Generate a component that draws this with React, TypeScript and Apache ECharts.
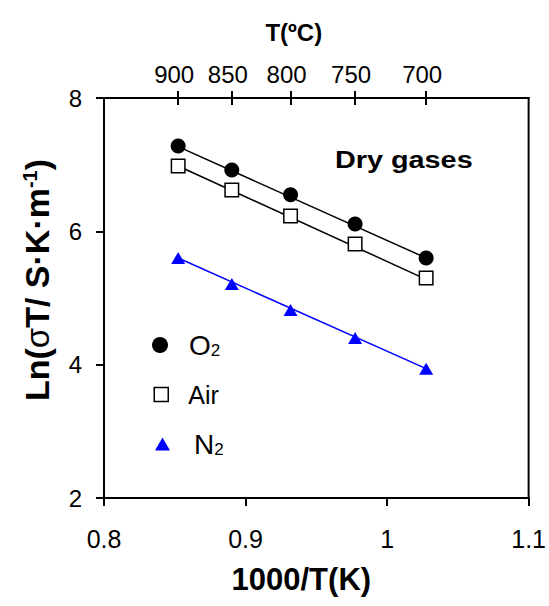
import React, { useEffect, useRef } from "react";
import * as echarts from "echarts";

// 1000/T(K) positions of the measuring temperatures (top axis ticks)
const invT = [0.8524, 0.8903, 0.9318, 0.9774, 1.0276];
const tempC = [900, 850, 800, 750, 700];

// Ln(σT) values per gas, in order of invT
const o2 = [7.28, 6.92, 6.55, 6.11, 5.6];
const air = [6.98, 6.62, 6.23, 5.81, 5.3];
const n2 = [5.6, 5.21, 4.82, 4.4, 3.94];

// Arrhenius fit lines (end points)
const o2Fit = [
  [0.8524, 7.27],
  [1.0276, 5.6],
];
const airFit = [
  [0.8524, 6.98],
  [1.0276, 5.28],
];
const n2Fit = [
  [0.8524, 5.6],
  [1.0276, 3.94],
];

const FONT = "'Liberation Sans', Arial, Helvetica, sans-serif";
const BLUE = "#0000ff";

const pairs = (xs: number[], ys: number[]) => xs.map((x, i) => [x, ys[i]]);

export default function App() {
  const ref = useRef<HTMLDivElement>(null);

  useEffect(() => {
    if (!ref.current) return;
    const chart = echarts.init(ref.current, null, { renderer: "svg" });

    const legendBase = {
      orient: "vertical",
      padding: 0,
      selectedMode: false,
    };

    chart.setOption({
      animation: false,
      backgroundColor: "#fff",
      grid: {
        left: 104,
        right: 20,
        top: 98,
        bottom: 108,
        show: true,
        borderColor: "#000",
        borderWidth: 2,
        backgroundColor: "transparent",
      },
      xAxis: [
        {
          type: "value",
          position: "bottom",
          min: 0.8,
          max: 1.1,
          interval: 0.1,
          axisLine: { lineStyle: { color: "#000", width: 2 } },
          axisTick: { length: 8, lineStyle: { color: "#000", width: 2 } },
          axisLabel: {
            fontSize: 25,
            color: "#000",
            fontFamily: FONT,
            margin: 28,
            formatter: (v: number) => String(Math.round(v * 10) / 10),
          },
          splitLine: { show: false },
          name: "1000/T(K)",
          nameLocation: "middle",
          nameGap: 66,
          nameTextStyle: {
            fontSize: 31,
            fontWeight: "bold",
            color: "#000",
            fontFamily: FONT,
            padding: [0, 30, 0, 0],
          },
        },
        {
          type: "value",
          position: "top",
          min: 0.8,
          max: 1.1,
          axisLine: { lineStyle: { color: "#000", width: 2 } },
          axisTick: {
            customValues: invT,
            length: 7,
            lineStyle: { color: "#000", width: 2 },
          },
          axisLabel: {
            customValues: invT,
            fontSize: 24,
            color: "#000",
            fontFamily: FONT,
            margin: 12,
            padding: [0, 8, 0, 0],
            formatter: (v: number) => {
              let best = 0;
              invT.forEach((p, i) => {
                if (Math.abs(p - v) < Math.abs(invT[best] - v)) best = i;
              });
              return String(tempC[best]);
            },
          },
          splitLine: { show: false },
          name: "T(ºC)",
          nameLocation: "middle",
          nameGap: 54,
          nameTextStyle: {
            fontSize: 24,
            fontWeight: "bold",
            color: "#000",
            fontFamily: FONT,
            padding: [0, 45, 0, 0],
          },
        },
        {
          type: "value",
          position: "top",
          min: 0.8,
          max: 1.1,
          axisLine: { show: false },
          axisTick: {
            customValues: invT,
            inside: true,
            length: 7,
            lineStyle: { color: "#000", width: 2 },
          },
          axisLabel: { show: false },
          splitLine: { show: false },
        },
      ],
      yAxis: [
        {
          type: "value",
          min: 2,
          max: 8,
          interval: 2,
          axisLine: { show: true, lineStyle: { color: "#000", width: 2 } },
          axisTick: { show: true, length: 8, lineStyle: { color: "#000", width: 2 } },
          axisLabel: { fontSize: 24, color: "#000", fontFamily: FONT, margin: 22 },
          splitLine: { show: false },
          name: "{a|Ln(}{g|σ}{a|T/ S·K·m}{sup|-1}{a|)}",
          nameLocation: "middle",
          nameRotate: 90,
          nameGap: 50,
          nameTextStyle: {
            color: "#000",
            padding: [0, 0, 0, 36],
            rich: {
              a: { fontSize: 34, fontWeight: "bold", fontFamily: FONT, color: "#000" },
              g: { fontSize: 33, fontWeight: "normal", fontFamily: FONT, color: "#000" },
              sup: {
                fontSize: 20,
                fontWeight: "bold",
                fontFamily: FONT,
                color: "#000",
                verticalAlign: "top",
                lineHeight: 13,
              },
            },
          },
        },
      ],
      legend: [
        {
          ...legendBase,
          left: 152,
          top: 331,
          itemWidth: 16,
          itemHeight: 16,
          data: [{ name: "O2", icon: "circle", itemStyle: { color: "#000" } }],
          formatter: () => "{sp| }{m|O}{s|2}",
          textStyle: {
            color: "#000",
            fontFamily: FONT,
            rich: {
              sp: { width: 16 },
              m: { fontSize: 28, fontFamily: FONT, color: "#000" },
              s: { fontSize: 17, fontFamily: FONT, color: "#000", verticalAlign: "bottom", lineHeight: 10 },
            },
          },
        },
        {
          ...legendBase,
          left: 153.5,
          top: 382,
          itemWidth: 14,
          itemHeight: 14,
          data: [
            {
              name: "Air",
              icon: "rect",
              itemStyle: { color: "#fff", borderColor: "#000", borderWidth: 1.5 },
            },
          ],
          formatter: () => "{sp| }{m|Air}",
          textStyle: {
            color: "#000",
            fontFamily: FONT,
            rich: {
              sp: { width: 15 },
              m: { fontSize: 25, fontFamily: FONT, color: "#000" },
            },
          },
        },
        {
          ...legendBase,
          left: 155,
          top: 430,
          itemWidth: 15,
          itemHeight: 13,
          symbolKeepAspect: false,
          data: [{ name: "N2", icon: "triangle", itemStyle: { color: BLUE } }],
          formatter: () => "{sp| }{m|N}{s|2}",
          textStyle: {
            color: "#000",
            fontFamily: FONT,
            rich: {
              sp: { width: 19 },
              m: { fontSize: 28, fontFamily: FONT, color: "#000" },
              s: { fontSize: 17, fontFamily: FONT, color: "#000", verticalAlign: "bottom", lineHeight: 15 },
            },
          },
        },
      ],
      graphic: [
        {
          type: "text",
          x: 335,
          y: 160,
          scaleX: 1.2,
          style: {
            text: "Dry gases",
            fontSize: 24,
            fontWeight: "bold",
            fontFamily: FONT,
            fill: "#000",
            align: "left",
            verticalAlign: "middle",
          },
        },
      ],
      series: [
        {
          name: "O2 fit",
          type: "line",
          data: o2Fit,
          showSymbol: false,
          silent: true,
          z: 2,
          lineStyle: { color: "#000", width: 1.5 },
        },
        {
          name: "Air fit",
          type: "line",
          data: airFit,
          showSymbol: false,
          silent: true,
          z: 2,
          lineStyle: { color: "#000", width: 1.5 },
        },
        {
          name: "N2 fit",
          type: "line",
          data: n2Fit,
          showSymbol: false,
          silent: true,
          z: 2,
          lineStyle: { color: BLUE, width: 1.5 },
        },
        {
          name: "O2",
          type: "scatter",
          data: pairs(invT, o2),
          symbol: "circle",
          symbolSize: 15,
          z: 3,
          itemStyle: { color: "#000", opacity: 1 },
        },
        {
          name: "Air",
          type: "scatter",
          data: pairs(invT, air),
          symbol: "rect",
          symbolSize: 13.5,
          z: 3,
          itemStyle: { color: "#fff", borderColor: "#000", borderWidth: 1.5, opacity: 1 },
        },
        {
          name: "N2",
          type: "scatter",
          data: pairs(invT, n2),
          symbol: "triangle",
          symbolSize: [14, 12],
          z: 3,
          itemStyle: { color: BLUE, opacity: 1 },
        },
      ],
    });

    return () => chart.dispose();
  }, []);

  return (
    <div
      ref={ref}
      style={{ position: "absolute", left: 0, top: 0, width: 549, height: 606 }}
    />
  );
}
